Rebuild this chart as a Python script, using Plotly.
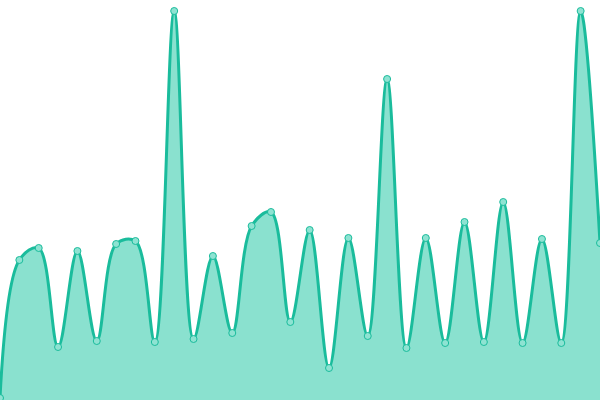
import plotly.graph_objects as go

x_index = list(range(32))
values = [2, 140, 152, 53, 149, 59, 156, 159, 58, 389, 61, 144, 67, 174, 188, 78,
          170, 32, 162, 64, 321, 52, 162, 57, 178, 58, 198, 57, 161, 57, 389, 157]

line_color = "#1abc9c"
fill_color = "rgba(22,196,160,0.5)"

fig = go.Figure()
fig.add_trace(go.Scatter(
    x=x_index, y=values,
    mode="lines+markers",
    line=dict(shape="spline", smoothing=1.0, color=line_color, width=3),
    fill="tozeroy", fillcolor=fill_color,
    marker=dict(size=7, color="#8ee3d2", line=dict(color=line_color, width=1)),
    cliponaxis=False,
    hoverinfo="skip",
))
fig.update_layout(
    width=600, height=400,
    margin=dict(l=0, r=0, t=0, b=0),
    paper_bgcolor="white", plot_bgcolor="white",
    showlegend=False,
    xaxis=dict(visible=False, range=[0, 31], fixedrange=True),
    yaxis=dict(visible=False, range=[0, 400], fixedrange=True),
)
fig.write_html(
    "out.html",
    config={"displayModeBar": False},
    post_script="document.body.style.margin='0';document.body.style.overflow='hidden';",
)
